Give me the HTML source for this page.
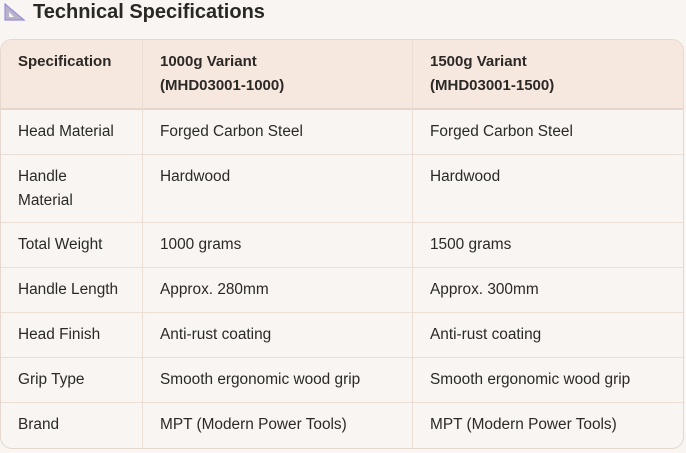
<!DOCTYPE html>
<html><head><style>
body{margin:0;width:686px;height:453px;background:#f8f5f2;font-family:"Liberation Sans",sans-serif;color:#2b2926;overflow:hidden;position:relative}
h2{position:absolute;left:33px;top:0;margin:0;font-size:20px;line-height:24px;font-weight:bold;color:#2a2825}
.ic{position:absolute;left:4px;top:3px}
table{position:absolute;left:0;top:39px;width:684px;border-collapse:separate;border-spacing:0;border:1px solid #e6d8ce;border-radius:12px;overflow:hidden;font-size:15.4px}
td,th{vertical-align:top;text-align:left;padding:10px 17px 0 17px;line-height:24px;border-bottom:1px solid #eaded5;border-right:1px solid #eaded5;box-sizing:border-box;white-space:nowrap}
td:last-child,th:last-child{border-right:none}
tr:last-child td{border-bottom:none}
th{background:#f7e8df;font-weight:bold;height:70px;padding-top:10px;border-bottom:2px solid #e6d6cc;font-size:15px}
tr.r td{height:45px}
tr.t td{height:68px}
</style></head><body>
<svg class="ic" width="22" height="18" viewBox="0 0 22 18"><polygon points="1,1 1,17 20,17" fill="#b9b3c9" stroke="#9a8fd8" stroke-width="1.2"/><polygon points="5,9 5,14 10,14" fill="#f8f5f2"/></svg>
<h2>Technical Specifications</h2>
<table>
<tr><th style="width:142px">Specification</th><th style="width:270px">1000g Variant<br>(MHD03001-1000)</th><th>1500g Variant<br>(MHD03001-1500)</th></tr>
<tr class="r"><td>Head Material</td><td>Forged Carbon Steel</td><td>Forged Carbon Steel</td></tr>
<tr class="t"><td>Handle<br>Material</td><td>Hardwood</td><td>Hardwood</td></tr>
<tr class="r"><td>Total Weight</td><td>1000 grams</td><td>1500 grams</td></tr>
<tr class="r"><td>Handle Length</td><td>Approx. 280mm</td><td>Approx. 300mm</td></tr>
<tr class="r"><td>Head Finish</td><td>Anti-rust coating</td><td>Anti-rust coating</td></tr>
<tr class="r"><td>Grip Type</td><td>Smooth ergonomic wood grip</td><td>Smooth ergonomic wood grip</td></tr>
<tr class="r"><td>Brand</td><td>MPT (Modern Power Tools)</td><td>MPT (Modern Power Tools)</td></tr>
</table>
</body></html>
